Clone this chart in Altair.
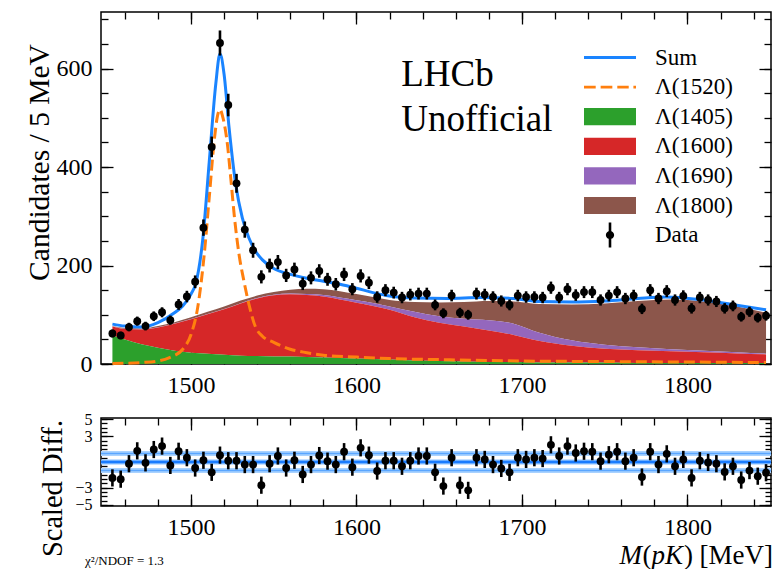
import altair as alt
import pandas as pd

FONT = "Liberation Serif"

# ---------------- data ----------------
BIN_CENTERS = [
    1452.5, 1457.5, 1462.5, 1467.5, 1472.5, 1477.5, 1482.5, 1487.5, 1492.5, 1497.5,
    1502.5, 1507.5, 1512.5, 1517.5, 1522.5, 1527.5, 1532.5, 1537.5, 1542.5, 1547.5,
    1552.5, 1557.5, 1562.5, 1567.5, 1572.5, 1577.5, 1582.5, 1587.5, 1592.5, 1597.5,
    1602.5, 1607.5, 1612.5, 1617.5, 1622.5, 1627.5, 1632.5, 1637.5, 1642.5, 1647.5,
    1652.5, 1657.5, 1662.5, 1667.5, 1672.5, 1677.5, 1682.5, 1687.5, 1692.5, 1697.5,
    1702.5, 1707.5, 1712.5, 1717.5, 1722.5, 1727.5, 1732.5, 1737.5, 1742.5, 1747.5,
    1752.5, 1757.5, 1762.5, 1767.5, 1772.5, 1777.5, 1782.5, 1787.5, 1792.5, 1797.5,
    1802.5, 1807.5, 1812.5, 1817.5, 1822.5, 1827.5, 1832.5, 1837.5, 1842.5, 1847.5,
]
COUNTS = [
    62, 58, 75, 87, 77, 97, 105, 89, 121, 137,
    167, 277, 441, 652, 526, 367, 273, 231, 177, 200,
    207, 180, 192, 163, 175, 189, 172, 162, 182, 152,
    179, 165, 136, 150, 145, 135, 141, 143, 143, 120,
    103, 139, 104, 100, 143, 141, 136, 128, 120, 139,
    136, 136, 135, 155, 135, 152, 140, 146, 146, 130,
    139, 146, 133, 139, 112, 150, 133, 148, 130, 138,
    113, 135, 130, 127, 113, 118, 96, 106, 94, 98,
]
COUNT_ERR = [
    7.9, 7.6, 8.7, 9.3, 8.8, 9.8, 10.2, 9.4, 11.0, 11.7,
    12.9, 16.6, 21.0, 25.5, 22.9, 19.2, 16.5, 15.2, 13.3, 14.1,
    14.4, 13.4, 13.9, 12.8, 13.2, 13.7, 13.1, 12.7, 13.5, 12.3,
    13.4, 12.8, 11.7, 12.2, 12.0, 11.6, 11.9, 12.0, 12.0, 11.0,
    10.1, 11.8, 10.2, 10.0, 12.0, 11.9, 11.7, 11.3, 11.0, 11.8,
    11.7, 11.7, 11.6, 12.4, 11.6, 12.3, 11.8, 12.1, 12.1, 11.4,
    11.8, 12.1, 11.5, 11.8, 10.6, 12.2, 11.5, 12.2, 11.4, 11.7,
    10.6, 11.6, 11.4, 11.3, 10.6, 10.9, 9.8, 10.3, 9.7, 9.9,
]
SCALED_DIFF = [
    -1.85, -2.0, -0.2, 1.3, -0.1, 1.45, 1.85, -0.4, 1.25, 0.5,
    -0.7, 0.2, -1.2, 0.8, 0.15, 0.15, -0.3, -0.3, -2.7, -0.2,
    0.7, -0.7, 0.2, -1.45, -0.3, 0.75, 0.1, -0.3, 1.2, -0.6,
    1.65, 0.8, -1.05, 0.15, 0.15, -0.5, 0.15, 0.7, 0.7, -1.2,
    -2.8, 0.5, -2.7, -3.3, 0.5, 0.3, -0.3, -0.75, -1.2, 0.5,
    0.3, 0.5, 0.4, 2.0, 0.7, 1.85, 1.05, 1.25, 1.2, 0.1,
    0.85, 1.2, 0.1, 0.5, -1.75, 1.2, -0.3, 0.95, -0.5, 0.3,
    -1.85, 0.15, -0.05, -0.2, -1.15, -0.5, -2.1, -1.0, -1.65, -1.25,
]
DIFF_ERR = [1.0] * 80

# fit curves
SUM_M = [1452.5, 1460, 1470, 1480, 1490, 1495, 1500, 1503, 1507, 1511, 1515, 1517.5,
         1520, 1523, 1527, 1531, 1535, 1539, 1543, 1550, 1560, 1570, 1580, 1590, 1600,
         1610, 1620, 1635, 1655, 1675, 1695, 1710, 1730, 1750, 1770, 1787, 1807, 1827, 1847.5]
SUM_V = [81, 77, 75, 84, 104, 118, 142, 165, 250, 410, 570, 630,
         588, 480, 365, 297, 256, 229, 212, 194, 182, 174, 168, 162, 154,
         145, 138, 134, 133, 135, 133, 127, 126, 128, 133, 136, 131, 121, 110]

L1520_M = [1452.5, 1470, 1480, 1487, 1495, 1500, 1504, 1508, 1511, 1514, 1516, 1517.5,
           1519, 1522, 1524, 1526.5, 1529, 1532, 1535, 1539, 1543, 1550, 1560, 1570,
           1580, 1600, 1620, 1650, 1700, 1750, 1800, 1847.5]
L1520_V = [1, 3, 6, 13, 30, 60, 114, 223, 338, 453, 504, 517,
           504, 446, 378, 290, 223, 168, 121, 75, 57, 44, 30, 23,
           18, 14, 11, 9, 6, 5, 4, 3]

# stacked component tops (cumulative, bottom to top)
COMP_M = [1452.5, 1460, 1470, 1480, 1490, 1500, 1510, 1520, 1530, 1540, 1550, 1560, 1570,
          1580, 1590, 1600, 1610, 1620, 1635, 1650, 1665, 1680, 1695, 1710, 1730, 1750,
          1770, 1790, 1810, 1830, 1847.5]
TOP_1405 = [58, 50, 40, 33, 27, 23, 21, 19, 17, 16, 15, 15, 14,
            13, 12, 11, 10, 9, 7, 6, 5, 4, 4, 3, 3, 3,
            2, 2, 2, 2, 2]
TOP_1600 = [76, 71, 70, 74, 82, 91, 101, 111, 123, 133, 139.5, 141.5, 140,
            137, 131, 124.5, 118, 110, 95, 84, 76, 68, 59, 47, 37, 31,
            28, 26, 24, 21.5, 19.5]
TOP_1690 = [76.5, 71.5, 70.5, 74.5, 82.5, 91.5, 101.5, 111.5, 123.5, 134, 140.5, 143, 142,
            140, 135, 129.5, 124, 117, 106, 97, 92, 89, 82, 64, 48, 39,
            34, 30, 27, 24, 21]
TOP_1800 = [77, 73, 72, 77, 85, 95, 106, 117, 129, 139, 146, 151, 153,
            152, 148, 142, 136, 130, 126, 125, 126, 128, 127, 122, 121, 123,
            128, 131, 127, 117, 104]

LEGEND_NAMES = ["Sum", "Λ(1520)", "Λ(1405)", "Λ(1600)", "Λ(1690)", "Λ(1800)", "Data"]
BLUE = "#1a84ff"
ORANGE = "#ff7f0e"
GREEN = "#2ca02c"
RED = "#d62728"
PURPLE = "#9467bd"
BROWN = "#8c564b"
LEGEND_COLORS = [BLUE, ORANGE, GREEN, RED, PURPLE, BROWN, "black"]

X_MAJOR = [1500, 1600, 1700, 1800]
X_MINOR = [1460, 1480, 1500, 1520, 1540, 1560, 1580, 1600, 1620, 1640, 1660, 1680,
           1700, 1720, 1740, 1760, 1780, 1800, 1820, 1840]
Y_MAJOR = [0, 200, 400, 600]
Y_MINOR = [0, 50, 100, 150, 200, 250, 300, 350, 400, 450, 500, 550, 600, 650, 700]
D_MAJOR = [-5, -3, 3, 5]
D_MINOR = [-5, -4.5, -4, -3.5, -3, -2.5, -2, -1.5, -1, -0.5, 0, 0.5, 1, 1.5, 2, 2.5,
           3, 3.5, 4, 4.5, 5]
BAND_LEVELS = [-1, 1]
ZERO_LEVEL = [0]

# legend symbols (unit box -1..1)
SYM_LINE = "M-1,-0.055H1V0.055H-1Z"
SYM_DASH = ("M-1,-0.055H-0.55V0.055H-1Z M-0.36,-0.055H0.09V0.055H-0.36Z "
            "M0.28,-0.055H0.72V0.055H0.28Z M0.9,-0.055H1V0.055H0.9Z")
SYM_RECT = "M-1,-0.33H1V0.33H-1Z"
SYM_DATA = ("M-0.05,-0.48H0.05V0.48H-0.05Z "
            "M0.16,0A0.16,0.16 0 1,1 -0.16,0A0.16,0.16 0 1,1 0.16,0Z")
LEGEND_SHAPES = [SYM_LINE, SYM_DASH, SYM_RECT, SYM_RECT, SYM_RECT, SYM_RECT, SYM_DATA]

# ---------------- tables ----------------
data_df = pd.DataFrame({"m": BIN_CENTERS, "n": COUNTS, "e": COUNT_ERR,
                        "d": SCALED_DIFF, "de": DIFF_ERR})
sum_df = pd.DataFrame({"m": SUM_M, "v": SUM_V})
l1520_df = pd.DataFrame({"m": L1520_M, "v": L1520_V})
comp_df = pd.DataFrame({"m": COMP_M, "g": TOP_1405, "r": TOP_1600,
                        "p": TOP_1690, "b": TOP_1800})
ann_df = pd.DataFrame({"m": [1627, 1627], "v": [565, 474], "t": ["LHCb", "Unofficial"]})
leg_df = pd.DataFrame({"name": LEGEND_NAMES})

XS = alt.Scale(domain=[1445.6, 1850.5], nice=False, zero=False)
YS = alt.Scale(domain=[0, 715], nice=False, zero=False)
DS = alt.Scale(domain=[-5.12, 5.12], nice=False, zero=False)


def tick_axis(orient, values, size, labels=False, **kw):
    return alt.Axis(orient=orient, values=values, tickSize=size, offset=-size,
                    labels=labels, domain=False, grid=False, ticks=True,
                    tickColor="black", tickWidth=1.3, labelOverlap=False, **kw)


def xq(field, axis):
    return alt.X(field, type="quantitative", scale=XS, axis=axis)


# ---------------- top panel ----------------
ax_xb = tick_axis("bottom", X_MAJOR, 12, labels=True, title=None, labelFontSize=24,
                  labelPadding=9, format="d")
ax_xb_m = tick_axis("bottom", X_MINOR, 7, title=None)
ax_xt = tick_axis("top", X_MAJOR, 12, title=None)
ax_xt_m = tick_axis("top", X_MINOR, 7, title=None)
ax_yl = tick_axis("left", Y_MAJOR, 12, labels=True, title="Candidates / 5 MeV",
                  labelFontSize=24, labelPadding=9, titleFontSize=29.5, titleAngle=270,
                  titleX=-74, titleY=150, titleAlign="center", titleBaseline="middle",
                  titleFontWeight="normal")
ax_yl_m = tick_axis("left", Y_MINOR, 7, title=None)
ax_yr = tick_axis("right", Y_MAJOR, 12, title=None)
ax_yr_m = tick_axis("right", Y_MINOR, 7, title=None)

brown = alt.Chart(comp_df).mark_area(color=BROWN, interpolate="monotone").encode(
    x=xq("m", ax_xb), y=alt.Y("b:Q", scale=YS, axis=ax_yl), y2="p:Q")
purple = alt.Chart(comp_df).mark_area(color=PURPLE, interpolate="monotone").encode(
    x=xq("m", ax_xb_m), y=alt.Y("p:Q", scale=YS, axis=ax_yl_m), y2="r:Q")
red = alt.Chart(comp_df).mark_area(color=RED, interpolate="monotone").encode(
    x=xq("m", ax_xt), y=alt.Y("r:Q", scale=YS, axis=ax_yr), y2="g:Q")
green = alt.Chart(comp_df).mark_area(color=GREEN, interpolate="monotone").encode(
    x=xq("m", ax_xt_m), y=alt.Y("g:Q", scale=YS, axis=ax_yr_m), y2=alt.datum(0))
l1520 = alt.Chart(l1520_df).mark_line(color=ORANGE, strokeWidth=3, strokeDash=[11, 5],
                                       interpolate="monotone").encode(
    x=xq("m", None), y=alt.Y("v:Q", scale=YS, axis=None))
sum_line = alt.Chart(sum_df).mark_line(color=BLUE, strokeWidth=3,
                                        interpolate="monotone").encode(
    x=xq("m", None), y=alt.Y("v:Q", scale=YS, axis=None))
errbars = alt.Chart(data_df).transform_calculate(
    lo="datum.n - datum.e", hi="datum.n + datum.e"
).mark_rule(color="black", strokeWidth=2.6).encode(
    x=xq("m", None), y=alt.Y("lo:Q", scale=YS, axis=None), y2="hi:Q")
points = alt.Chart(data_df).mark_circle(color="black", size=62, opacity=1).encode(
    x=xq("m", None), y=alt.Y("n:Q", scale=YS, axis=None))
ann = alt.Chart(ann_df).mark_text(align="left", baseline="alphabetic", font=FONT,
                                   fontSize=37, color="black").encode(
    x=xq("m", None), y=alt.Y("v:Q", scale=YS, axis=None), text="t:N")

legend_def = alt.Legend(title=None, orient="none", legendX=483, legendY=31, padding=0,
                        labelFont=FONT, labelFontSize=23, labelColor="black",
                        symbolSize=2704, symbolStrokeWidth=0, symbolOpacity=1,
                        labelOffset=19, clipHeight=29, rowPadding=0.6, labelLimit=300)
legend_layer = alt.Chart(leg_df).transform_filter("false").mark_point(filled=True).encode(
    color=alt.Color("name:N", scale=alt.Scale(domain=LEGEND_NAMES, range=LEGEND_COLORS),
                    legend=legend_def),
    shape=alt.Shape("name:N", scale=alt.Scale(domain=LEGEND_NAMES, range=LEGEND_SHAPES),
                    legend=legend_def))

top = alt.layer(brown, purple, red, green, l1520, sum_line, errbars, points, ann,
                legend_layer).resolve_axis(x="independent", y="independent").properties(
    width=670, height=352)

# ---------------- bottom panel ----------------
bx_b = tick_axis("bottom", X_MAJOR, 12, labels=True, title=None, labelFontSize=24,
                 labelPadding=9, format="d")
bx_b_m = tick_axis("bottom", X_MINOR, 7, title=None)
bx_t = tick_axis("top", X_MAJOR, 12, title=None)
bx_t_m = tick_axis("top", X_MINOR, 7, title=None)
by_l = tick_axis("left", D_MAJOR, 12, labels=True, title="Scaled Diff.",
                 labelFontSize=16, labelPadding=9, titleFontSize=28.5, titleAngle=270,
                 titleX=-61, titleY=70, titleAlign="center", titleBaseline="middle",
                 titleFontWeight="normal")
by_l_m = tick_axis("left", D_MINOR, 6, title=None)
by_r = tick_axis("right", D_MAJOR, 12, title=None)
by_r_m = tick_axis("right", D_MINOR, 6, title=None)

bands_df = pd.DataFrame({"lv": BAND_LEVELS})
zero_df = pd.DataFrame({"lv": ZERO_LEVEL})

band_wide = alt.Chart(bands_df).mark_rule(color="#a9d2ff", strokeWidth=5).encode(
    y=alt.Y("lv:Q", scale=DS, axis=by_l))
band_mid = alt.Chart(bands_df).mark_rule(color="#5aa6ff", strokeWidth=1.5).encode(
    y=alt.Y("lv:Q", scale=DS, axis=by_l_m))
zero_wide = alt.Chart(zero_df).mark_rule(color="#8cc2ff", strokeWidth=5).encode(
    y=alt.Y("lv:Q", scale=DS, axis=by_r))
zero_mid = alt.Chart(zero_df).mark_rule(color="#1a7cff", strokeWidth=2.5).encode(
    y=alt.Y("lv:Q", scale=DS, axis=by_r_m))
derr = alt.Chart(data_df).transform_calculate(
    lo="datum.d - datum.de", hi="datum.d + datum.de"
).mark_rule(color="black", strokeWidth=2.6).encode(
    x=xq("m", bx_b), y=alt.Y("lo:Q", scale=DS, axis=None), y2="hi:Q")
dpts = alt.Chart(data_df).mark_circle(color="black", size=62, opacity=1).encode(
    x=xq("m", bx_b_m), y=alt.Y("d:Q", scale=DS, axis=None))
tick_top = alt.Chart(data_df).mark_point(opacity=0).encode(
    x=xq("m", bx_t), y=alt.Y("d:Q", scale=DS, axis=None))
tick_top_m = alt.Chart(data_df).mark_point(opacity=0).encode(
    x=xq("m", bx_t_m), y=alt.Y("d:Q", scale=DS, axis=None))


def label_piece(txt, xpx, ypx, size, style="normal"):
    return alt.Chart(pd.DataFrame({"t": [txt]})).mark_text(
        align="left", baseline="alphabetic", font=FONT, fontSize=size,
        fontStyle=style, color="black").encode(
        text="t:N", x=alt.value(xpx), y=alt.value(ypx))


xt1 = label_piece("M", 518.5, 145.7, 27, "italic")
xt2 = label_piece("(", 541.5, 145.7, 27)
xt3 = label_piece("pK", 550.5, 145.7, 27, "italic")
xt4 = label_piece(")", 583, 145.7, 27)
xt5 = label_piece("[MeV]", 598.5, 145.7, 27)
chi = label_piece("χ²/NDOF = 1.3", -16, 147, 13)

bottom = alt.layer(band_wide, band_mid, zero_wide, zero_mid, derr, dpts, tick_top,
                   tick_top_m, xt1, xt2, xt3, xt4, xt5, chi).resolve_axis(
    x="independent", y="independent").properties(width=670, height=88)

chart = alt.vconcat(top, bottom, spacing=54, bounds="flush").properties(
    padding={"left": 23, "top": 10, "right": 2, "bottom": 0}
).configure_view(stroke="black", strokeWidth=1.5).configure_axis(
    labelFont=FONT, titleFont=FONT, labelColor="black", titleColor="black")

chart.save("out.html", embed_options={"renderer": "svg", "actions": False})
